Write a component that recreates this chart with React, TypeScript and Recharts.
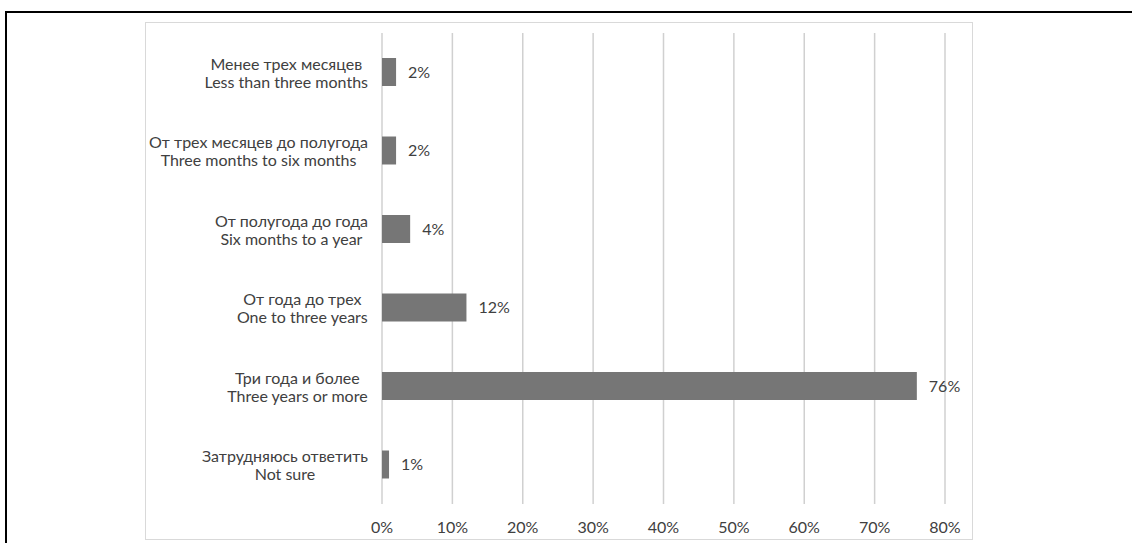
import { BarChart, Bar, XAxis, YAxis, CartesianGrid, LabelList } from "recharts";

const ruLabels = [
  "Менее трех месяцев",
  "От трех месяцев до полугода",
  "От полугода до года",
  "От года до трех",
  "Три года и более",
  "Затрудняюсь ответить",
];
const enLabels = [
  "Less than three months",
  "Three months to six months",
  "Six months to a year",
  "One to three years",
  "Three years or more",
  "Not sure",
];
const shares = [2, 2, 4, 12, 76, 1];
const xTicks = [0, 10, 20, 30, 40, 50, 60, 70, 80];

const FONT = "Lato, 'Open Sans', sans-serif";
const FONT_SIZE = 16;
const TEXT = "#404040";

const data = ruLabels.map((ru, i) => ({ key: String(i), ru, en: enLabels[i], value: shares[i] }));

let ctx: CanvasRenderingContext2D | null = null;
function measure(s: string) {
  if (!ctx) ctx = document.createElement("canvas").getContext("2d");
  if (!ctx) return s.length * 7;
  ctx.font = `${FONT_SIZE}px Lato`;
  return ctx.measureText(s).width;
}

function CategoryTick(props: any) {
  const { x, y, payload } = props;
  const row = data[Number(payload.value)];
  if (!row) return null;
  const w = Math.max(measure(row.ru), measure(row.en));
  const cx = x - 6 - w / 2;
  return (
    <g>
      <text x={cx} y={y - 9} textAnchor="middle" dominantBaseline="central" fill={TEXT} fontSize={FONT_SIZE} fontFamily={FONT}>
        {row.ru}
      </text>
      <text x={cx} y={y + 9} textAnchor="middle" dominantBaseline="central" fill={TEXT} fontSize={FONT_SIZE} fontFamily={FONT}>
        {row.en}
      </text>
    </g>
  );
}

export default function App() {
  return (
    <div style={{ position: "absolute", left: 0, top: 0, width: 1132, height: 543, background: "#fff", fontFamily: FONT }}>
      <div style={{ position: "absolute", left: 5, top: 11, width: 1127, height: 532, borderTop: "2px solid #000", borderLeft: "2px solid #000", boxSizing: "border-box" }} />
      <div style={{ position: "absolute", left: 145, top: 22, width: 828, height: 518, border: "1px solid #d9d9d9", boxSizing: "border-box" }} />
      <div style={{ position: "absolute", left: 0, top: 0 }}>
        <BarChart
          width={1132}
          height={543}
          data={data}
          layout="vertical"
          margin={{ top: 33, right: 187, bottom: 0, left: 0 }}
          barCategoryGap={0}
        >
          <CartesianGrid horizontal={false} stroke="#d0d0d0" strokeWidth={1.5} />
          <XAxis
            type="number"
            domain={[0, 80]}
            ticks={xTicks}
            tickFormatter={(v) => `${v}%`}
            axisLine={false}
            tickLine={false}
            height={39}
            interval={0}
            tick={{ fill: TEXT, fontSize: FONT_SIZE, fontFamily: FONT, dy: 10 }}
          />
          <YAxis
            type="category"
            dataKey="key"
            width={382}
            axisLine={false}
            tickLine={false}
            interval={0}
            tick={<CategoryTick />}
          />
          <Bar dataKey="value" fill="#767676" barSize={28} isAnimationActive={false}>
            <LabelList
              dataKey="value"
              position="right"
              offset={12}
              formatter={(v: any) => `${v}%`}
              fill={TEXT}
              fontSize={FONT_SIZE}
              fontFamily={FONT}
            />
          </Bar>
        </BarChart>
      </div>
    </div>
  );
}
